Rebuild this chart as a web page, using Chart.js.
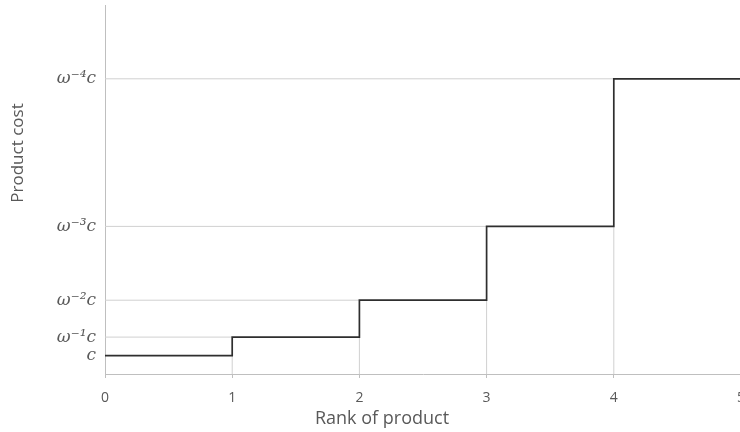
<!DOCTYPE html>
<html>
<head>
<meta charset="utf-8">
<script src="https://cdn.jsdelivr.net/npm/chart.js@4"></script>
<style>
  html, body { margin: 0; padding: 0; background: #fff; overflow: hidden; }
  #wrap { width: 760px; height: 432px; }
</style>
</head>
<body>
<div id="wrap"><canvas id="c" width="760" height="432"></canvas></div>
<script>
// Data
const ranks = [0, 1, 2, 3, 4, 5];
const costs = [1, 2, 4, 8, 16, 16];          // cost level reached at each rank (c = 1, ω = 1/2)
const levels = [1, 2, 4, 8, 16];              // y tick values
const yTickLabels = ['c', 'ω⁻¹c', 'ω⁻²c', 'ω⁻³c', 'ω⁻⁴c'];
const xTickLabels = ['0', '1', '2', '3', '4', '5'];
const xTitle = 'Rank of product';
const yTitle = 'Product cost';

const GRID = '#d0d0d0';
const AXIS = '#bfbfbf';
const TEXT = '#595959';

const datasets = [];
datasets.push({
  label: 'cost',
  data: ranks.map((r, i) => ({ x: r, y: costs[i] })),
  stepped: 'before',
  borderColor: '#2e2e2e',
  borderWidth: 1.7,
  pointRadius: 0,
  fill: false
});
// horizontal drop lines from each corner to the y axis
for (let i = 1; i < levels.length; i++) {
  datasets.push({
    data: [{ x: ranks[0], y: levels[i] }, { x: ranks[i], y: levels[i] }],
    borderColor: GRID, borderWidth: 1, pointRadius: 0, fill: false
  });
}
// vertical drop lines from each corner to the x axis
for (let i = 1; i < levels.length; i++) {
  datasets.push({
    data: [{ x: ranks[i], y: 0 }, { x: ranks[i], y: costs[i - 1] }],
    borderColor: GRID, borderWidth: 1, pointRadius: 0, fill: false
  });
}

const titlePlugin = {
  id: 'axisTitles',
  afterDraw(chart) {
    const ctx = chart.ctx;
    ctx.save();
    ctx.fillStyle = TEXT;
    ctx.textAlign = 'center';
    ctx.textBaseline = 'middle';
    ctx.font = '18px "Open Sans"';
    ctx.fillText(xTitle, 382, 419);
    ctx.font = '17px "Open Sans"';
    ctx.translate(18, 153);
    ctx.rotate(-Math.PI / 2);
    ctx.fillText(yTitle, 0, 0);
    ctx.restore();
  }
};

new Chart(document.getElementById('c'), {
  type: 'line',
  data: { datasets },
  plugins: [titlePlugin],
  options: {
    responsive: false,
    animation: false,
    layout: { padding: { left: 0, right: 19, top: 5, bottom: 0 } },
    plugins: { legend: { display: false }, tooltip: { enabled: false } },
    scales: {
      x: {
        type: 'linear', min: 0, max: 5,
        afterFit(s) { s.height = 58; s.paddingLeft = 0; s.paddingRight = 0; },
        ticks: {
          stepSize: 1, color: TEXT, padding: 12,
          font: { family: 'Open Sans', size: 14 },
          callback: (v) => xTickLabels[v] ?? ''
        },
        grid: { display: true, drawOnChartArea: false, drawTicks: true, tickLength: 4, color: AXIS },
        border: { display: true, color: AXIS, width: 1 }
      },
      y: {
        type: 'linear', min: 0, max: 20,
        afterFit(s) { s.width = 105; s.paddingTop = 0; s.paddingBottom = 0; },
        afterBuildTicks(s) { s.ticks = levels.map(v => ({ value: v })); },
        ticks: {
          color: TEXT, padding: 9,
          font: { family: 'DejaVu Serif', size: 17, style: 'italic' },
          callback: (v) => yTickLabels[levels.indexOf(v)] ?? ''
        },
        grid: { display: false, drawTicks: false },
        border: { display: true, color: AXIS, width: 1 }
      }
    }
  }
});
</script>
</body>
</html>
